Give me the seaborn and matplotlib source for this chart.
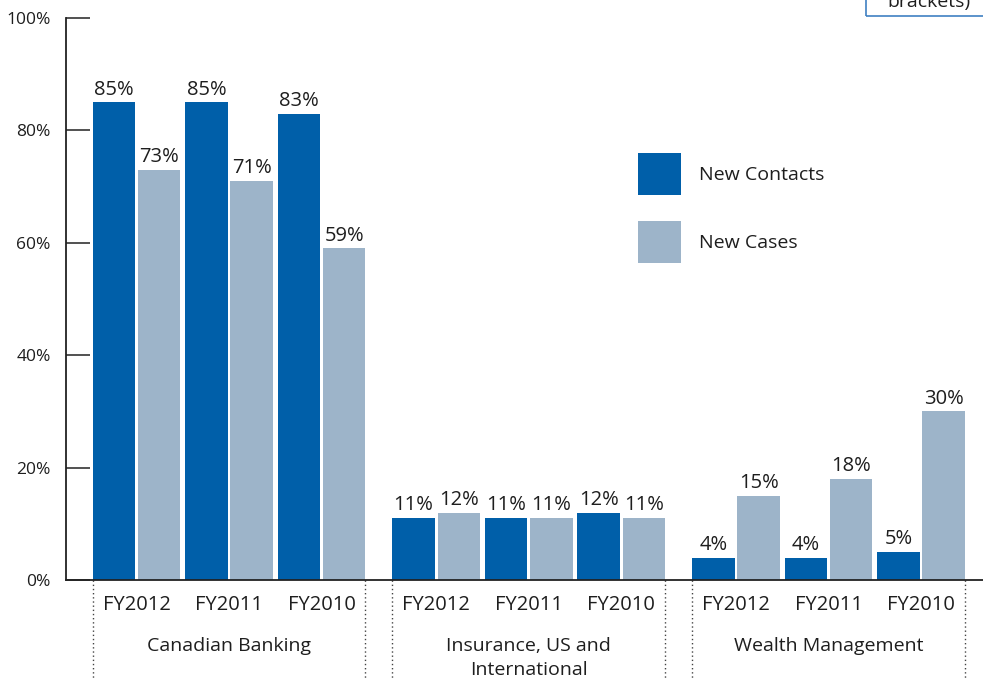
import pandas as pd
import seaborn as sns
import matplotlib.pyplot as plt
from matplotlib.patches import Rectangle
import matplotlib.transforms as mtransforms

# data
groups = ["Canadian Banking", "Insurance, US and\nInternational", "Wealth Management"]
years = ["FY2012", "FY2011", "FY2010"]
series = ["New Contacts", "New Cases"]
new_contacts = [85, 85, 83, 11, 11, 12, 4, 4, 5]
new_cases = [73, 71, 59, 12, 11, 11, 15, 18, 30]
yticks = [0, 20, 40, 60, 80, 100]

dark_blue = "#005fa9"
light_blue = "#9db4c9"
text_col = "#1e1e1e"

sns.set_theme(style="white")
plt.rcParams["font.family"] = ["Open Sans", "DejaVu Sans"]

# numeric slot for each (group, year) pair; extra space between groups
group_step = 3.24
positions = [gi * group_step + yi for gi in range(len(groups)) for yi in range(len(years))]

rows = []
for i, pos in enumerate(positions):
    rows.append({"pos": pos, "series": series[0], "value": new_contacts[i]})
    rows.append({"pos": pos, "series": series[1], "value": new_cases[i]})
df = pd.DataFrame(rows)

fig = plt.figure(figsize=(9.83, 6.79), dpi=100)
ax = fig.add_axes([66 / 983, 1 - 580 / 679, 1 - 66 / 983, (580 - 18) / 679])

sns.barplot(data=df, x="pos", y="value", hue="series", hue_order=series,
            palette=[dark_blue, light_blue], saturation=1, native_scale=True,
            width=0.98, gap=0.06, errorbar=None, linewidth=0, ax=ax)

for c in ax.containers:
    ax.bar_label(c, fmt="{:.0f}%", padding=2, fontsize=14.5, color=text_col)

ax.set_ylim(0, 100)
ax.set_xlim(-0.762, 9.15)
ax.set_yticks(yticks)
ax.set_yticklabels([f"{t}%" for t in yticks])
ax.set_xticks(positions)
ax.set_xticklabels(years * len(groups))
ax.set_xlabel("")
ax.set_ylabel("")

ax.tick_params(axis="y", direction="in", length=17, width=1.2, color="#333333",
               pad=11, labelsize=12.5, labelcolor=text_col, left=True)
ax.tick_params(axis="x", length=0, pad=11, labelsize=14.5, labelcolor=text_col)

for side in ["top", "right"]:
    ax.spines[side].set_visible(False)
for side in ["left", "bottom"]:
    ax.spines[side].set_color("#222222")
    ax.spines[side].set_linewidth(1.3)

# group labels and dotted separators below the axis
trans = mtransforms.blended_transform_factory(ax.transData, ax.transAxes)
bars = [p for c in ax.containers for p in c.patches]
for gi, name in enumerate(groups):
    slots = positions[gi * len(years):(gi + 1) * len(years)]
    ax.text(sum(slots) / len(slots), -0.102, name, transform=trans, ha="center",
            va="top", fontsize=14, color=text_col, linespacing=1.4)
    lo, hi = slots[0] - 0.5, slots[-1] + 0.5
    in_group = [b for b in bars if lo <= b.get_x() + b.get_width() / 2 <= hi]
    left = min(b.get_x() for b in in_group)
    right = max(b.get_x() + b.get_width() for b in in_group)
    for xe in (left, right):
        ax.plot([xe, xe], [0, -0.2], transform=trans, color="#444444",
                linestyle=(0, (1, 2)), linewidth=1, clip_on=False)

sns.move_legend(ax, "upper left", bbox_to_anchor=(638 / 983, 1 - 153 / 679),
                bbox_transform=fig.transFigure, frameon=False, title=None,
                fontsize=14, handlelength=2.21, handleheight=2.94,
                labelspacing=1.34, handletextpad=0.93, borderpad=0,
                borderaxespad=0)
for t in ax.get_legend().get_texts():
    t.set_color(text_col)

# note box cut off at the top right corner
fig.patches.append(Rectangle((866 / 983, 1 - 16 / 679), 0.2, 0.1,
                             transform=fig.transFigure, fill=False,
                             edgecolor="#3f80c2", linewidth=1.2))
fig.text(929 / 983, 1 - 7 / 679, "brackets)", ha="center", va="baseline",
         fontsize=14, color=text_col)

fig.savefig("out.png", dpi=100)
